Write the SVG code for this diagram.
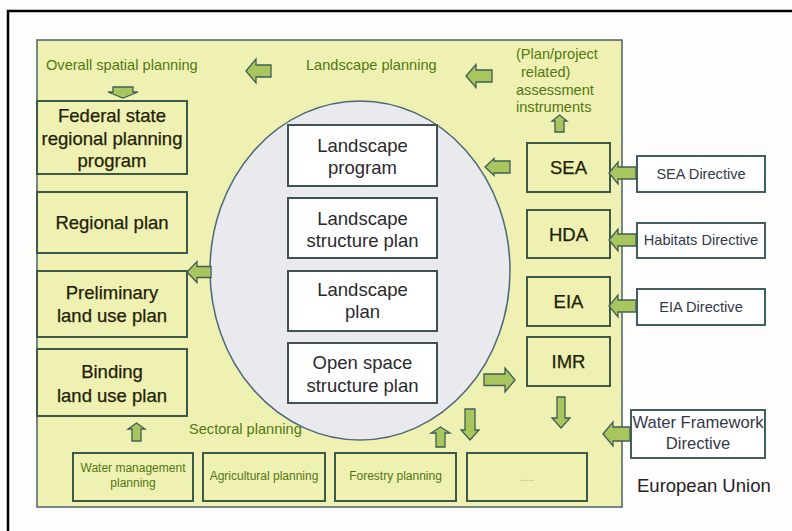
<svg xmlns="http://www.w3.org/2000/svg" width="792" height="531" viewBox="0 0 792 531">
<style>
text{font-family:"Liberation Sans",Arial,sans-serif}
.pbox{fill:#eef1b2;stroke:#3d5a48;stroke-width:2}
.wbox{fill:#ffffff;stroke:#3f5058;stroke-width:2}
.dbox{fill:#ffffff;stroke:#3f5f60;stroke-width:2}
.big{font-size:18.5px;fill:#1f2208;text-anchor:middle;stroke:#1f2208;stroke-width:0.25}
.mid{font-size:18.5px;fill:#2a2a2e;text-anchor:middle}
.lab{font-size:14.6px;fill:#527812}
.sec{font-size:12px;fill:#527812;text-anchor:middle}
.dir{font-size:14.6px;fill:#33384a;text-anchor:middle}
.arr{fill:#a8c55e;stroke:#3f5f55;stroke-width:1.3;stroke-linejoin:miter}
</style>
<rect x="0" y="0" width="792" height="531" fill="#fffdfc"/>
<rect x="8" y="11" width="800" height="540" fill="none" stroke="#000" stroke-width="2.5"/>
<g id="panel">
<rect x="37" y="40" width="585" height="467" fill="#eef1b2" stroke="#4a6266" stroke-width="1.5"/>
</g>
<g id="labels">
<text class="lab" x="46" y="70">Overall spatial planning</text>
<text class="lab" x="306" y="70">Landscape planning</text>
<text class="lab" x="516" y="59">(Plan/project</text>
<text class="lab" x="521" y="77">related)</text>
<text class="lab" x="516" y="95">assessment</text>
<text class="lab" x="516" y="112">instruments</text>
<text class="lab" x="189" y="434">Sectoral planning</text>
</g>
<g id="ellipse">
<ellipse cx="360" cy="270.5" rx="150" ry="169.5" fill="#e9e9ee" stroke="#4a6a78" stroke-width="1.5"/>
</g>
<g id="federal"><rect class="pbox" x="37" y="101" width="150" height="73"/>
<text class="big" x="112" y="122">Federal state</text><text class="big" x="112" y="145">regional planning</text><text class="big" x="112" y="167">program</text></g>
<g id="regional"><rect class="pbox" x="37" y="192" width="150" height="61"/>
<text class="big" x="112" y="229">Regional plan</text></g>
<g id="preliminary"><rect class="pbox" x="37" y="271" width="150" height="66"/>
<text class="big" x="112" y="299">Preliminary</text><text class="big" x="112" y="322">land use plan</text></g>
<g id="binding"><rect class="pbox" x="37" y="349" width="150" height="67"/>
<text class="big" x="112" y="378">Binding</text><text class="big" x="112" y="402">land use plan</text></g>
<g id="lprogram"><rect class="wbox" x="288" y="125" width="149" height="61"/>
<text class="mid" x="362.5" y="152">Landscape</text><text class="mid" x="362.5" y="174">program</text></g>
<g id="lstructure"><rect class="wbox" x="288" y="198" width="149" height="60"/>
<text class="mid" x="362.5" y="225">Landscape</text><text class="mid" x="362.5" y="247">structure plan</text></g>
<g id="lplan"><rect class="wbox" x="288" y="271" width="149" height="60"/>
<text class="mid" x="362.5" y="296">Landscape</text><text class="mid" x="362.5" y="318">plan</text></g>
<g id="openspace"><rect class="wbox" x="288" y="343" width="149" height="60"/>
<text class="mid" x="362.5" y="369">Open space</text><text class="mid" x="362.5" y="392">structure plan</text></g>
<g id="sea"><rect class="pbox" x="527" y="143" width="83" height="49"/><text class="big" x="568.5" y="174">SEA</text></g>
<g id="hda"><rect class="pbox" x="527" y="210" width="83" height="48"/><text class="big" x="568.5" y="241">HDA</text></g>
<g id="eia"><rect class="pbox" x="527" y="277" width="83" height="49"/><text class="big" x="568.5" y="308">EIA</text></g>
<g id="imr"><rect class="pbox" x="527" y="337" width="83" height="49"/><text class="big" x="568.5" y="368">IMR</text></g>
<g id="seadir"><rect class="dbox" x="637" y="156" width="128" height="36"/><text class="dir" x="701" y="179">SEA Directive</text></g>
<g id="habdir"><rect class="dbox" x="637" y="223" width="128" height="35"/><text class="dir" x="701" y="245">Habitats Directive</text></g>
<g id="eiadir"><rect class="dbox" x="637" y="289" width="128" height="36"/><text class="dir" x="701" y="312">EIA Directive</text></g>
<g id="wfd"><rect class="dbox" x="631" y="410" width="134" height="48"/>
<text class="dir" x="698" y="428" style="font-size:16.6px">Water Framework</text><text class="dir" x="698" y="449" style="font-size:16.6px">Directive</text></g>
<g id="eu"><text x="637" y="492" style="font-size:18.5px;fill:#222228">European Union</text></g>
<g id="water"><rect class="pbox" x="73" y="453" width="120" height="48"/>
<text class="sec" x="133" y="472">Water management</text><text class="sec" x="133" y="487">planning</text></g>
<g id="agri"><rect class="pbox" x="203" y="453" width="122" height="48"/>
<text class="sec" x="264" y="480">Agricultural planning</text></g>
<g id="forest"><rect class="pbox" x="335" y="453" width="121" height="48"/>
<text class="sec" x="395.5" y="480">Forestry planning</text></g>
<g id="other"><rect class="pbox" x="467" y="453" width="120" height="48"/>
<text class="sec" x="527" y="481" style="fill:#8fbf50;font-size:10px">.....</text></g>
<g id="connectors">
<path class="arr" d="M113,87 L133,87 L133,92 L138,92 L123,98 L108,92 L113,92 Z"/>
<path class="arr" d="M246,71 L256,59 L256,65 L271,65 L271,77 L256,77 L256,83 Z"/>
<path class="arr" d="M466,76 L476,64.5 L476,70 L492,70 L492,82 L476,82 L476,87.5 Z"/>
<path class="arr" d="M559.5,115 L567,121 L564,121 L564,132 L555,132 L555,121 L552,121 Z"/>
<path class="arr" d="M485,167 L494,158.5 L494,161 L510,161 L510,173 L494,173 L494,175.5 Z"/>
<path class="arr" d="M609,173 L618,162 L618,167 L636,167 L636,179 L618,179 L618,184 Z"/>
<path class="arr" d="M609,240 L618,229 L618,234 L636,234 L636,246 L618,246 L618,251 Z"/>
<path class="arr" d="M609,306 L618,295 L618,300 L636,300 L636,312 L618,312 L618,317 Z"/>
<path class="arr" d="M603,434 L613,422 L613,427 L630,427 L630,441 L613,441 L613,446 Z"/>
<path class="arr" d="M561,428 L570,418 L565,418 L565,397 L557,397 L557,418 L552,418 Z"/>
<path class="arr" d="M515,380 L505,368 L505,374 L484,374 L484,385.5 L505,385.5 L505,392 Z"/>
<path class="arr" d="M470,440 L479,430 L475,430 L475,409 L465,409 L465,430 L461,430 Z"/>
<path class="arr" d="M440.5,427 L450,433 L445,433 L445,447 L436,447 L436,433 L431,433 Z"/>
<path class="arr" d="M136.5,423 L145,429 L141,429 L141,441 L132,441 L132,429 L128,429 Z"/>
<path class="arr" d="M187,272 L197,261.5 L197,266.5 L211,266.5 L211,277.5 L197,277.5 L197,282.5 Z"/>
</g>
</svg>
